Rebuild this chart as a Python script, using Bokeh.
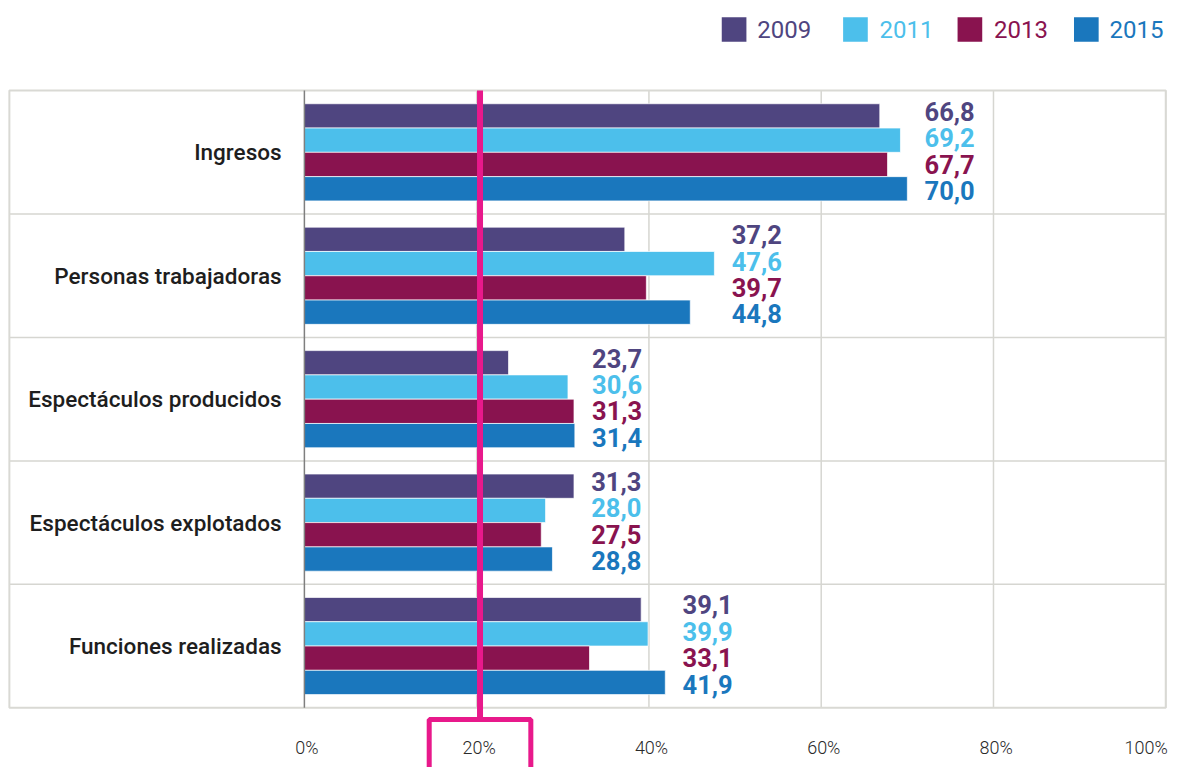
from bokeh.plotting import figure
from bokeh.models import Range1d
from bokeh.core.properties import value
from bokeh.embed import file_html
from bokeh.resources import INLINE

# ---------------- data ----------------
categories = ["Ingresos", "Personas trabajadoras", "Espectáculos producidos",
              "Espectáculos explotados", "Funciones realizadas"]
years = ["2009", "2011", "2013", "2015"]
v2009 = [66.8, 37.2, 23.7, 31.3, 39.1]
v2011 = [69.2, 47.6, 30.6, 28.0, 39.9]
v2013 = [67.7, 39.7, 31.3, 27.5, 33.1]
v2015 = [70.0, 44.8, 31.4, 28.8, 41.9]
x_ticks = [0, 20, 40, 60, 80, 100]
x_tick_labels = ["0%", "20%", "40%", "60%", "80%", "100%"]
colors = ["#4f4580", "#4cbfeb", "#89134f", "#1a77bd"]
series = [v2009, v2011, v2013, v2015]

# ---------------- layout (reference pixel space 1200x783) ----------------
W, H = 1184, 767
RW, RH = 1200.0, 783.0
X0 = 308.0      # px of 0 %
PX = 8.73       # px per 1 %
BOX_TOP = 92.0  # px of box top
BAND = 126.0    # px per category band

FONT = value("Roboto")
FONT_M = value("Roboto Medium")
FONT_L = value("Roboto Light")
PINK = "#e8198b"
GRID = "#d6d6d1"


def px_x(px):
    return (px - X0) / PX


def px_y(py):
    return (py - BOX_TOP) / BAND


p = figure(width=W, height=H, output_backend="svg", toolbar_location=None,
           x_range=Range1d(px_x(0), px_x(RW)), y_range=Range1d(px_y(RH), px_y(0)),
           min_border=0, outline_line_color=None)
p.axis.visible = False
p.grid.visible = False
p.background_fill_color = "white"
p.border_fill_color = "white"

n = len(categories)
left_edge = px_x(9)

# grid lines
p.segment(x0=x_ticks[1:], x1=x_ticks[1:], y0=[0] * 5, y1=[n] * 5,
          line_color=GRID, line_width=1.5)
p.segment(x0=[left_edge] * (n - 1), x1=[100] * (n - 1),
          y0=list(range(1, n)), y1=list(range(1, n)),
          line_color=GRID, line_width=1.5)
# box
p.quad(left=left_edge, right=100, top=0, bottom=n, fill_color=None,
       line_color="#d9d9d4", line_width=2)

# bars
BH = 24.8 / BAND
for j, (vals, col) in enumerate(zip(series, colors)):
    ys = [i + 0.5 + (j - 1.5) * BH for i in range(n)]
    p.hbar(y=ys, left=0, right=vals, height=BH, fill_color=col,
           line_color="white", line_alpha=0.7, line_width=1)

# zero axis line
p.segment(x0=[0], x1=[0], y0=[0], y1=[n], line_color="#7f7f7f", line_width=1.5)

# value labels
LS = 27.0 / BAND
for j, (vals, col) in enumerate(zip(series, colors)):
    xs = [max(s[i] for s in series) + 2.0 for i in range(n)]
    ys = [i + 0.5 + (j - 1.5) * LS - 0.012 for i in range(n)]
    txt = [f"{v:.1f}".replace(".", ",") for v in vals]
    p.text(x=xs, y=ys, text=txt, text_color=col, text_font=FONT,
           text_font_size="25.5px", text_font_style="bold",
           text_align="left", text_baseline="middle")

# category labels
p.text(x=[px_x(285)] * n, y=[i + 0.5 for i in range(n)], text=categories,
       text_color="#1e1e1e", text_font=FONT_M, text_font_size="22.5px",
       text_align="right", text_baseline="middle")

# tick labels
p.text(x=[t + 0.3 for t in x_ticks[:-1]], y=[px_y(763)] * (len(x_ticks) - 1),
       text=x_tick_labels[:-1], text_color="#2a2a2a", text_font=FONT_L,
       text_font_size="18px", text_align="center", text_baseline="middle")
p.text(x=[px_x(1183)], y=[px_y(763)], text=x_tick_labels[-1:],
       text_color="#2a2a2a", text_font=FONT_L, text_font_size="18px",
       text_align="right", text_baseline="middle")

# pink highlight
MARK = px_x(486)
p.segment(x0=[MARK], x1=[MARK], y0=[0], y1=[px_y(734)], line_color=PINK,
          line_width=6)
p.quad(left=px_x(434.5), right=px_x(537.5), top=px_y(734), bottom=px_y(RH + 20),
       fill_color=None, line_color=PINK, line_width=5)

# legend
sq_left = [731, 854, 970, 1088]
tx_left = [767, 891, 1007, 1124]
p.quad(left=[px_x(a) for a in sq_left], right=[px_x(a + 25) for a in sq_left],
       top=[px_y(17)] * 4, bottom=[px_y(42)] * 4, fill_color=colors,
       line_color=None)
p.text(x=[px_x(a) for a in tx_left], y=[px_y(30)] * 4, text=years,
       text_color=colors, text_font=FONT, text_font_size="24px",
       text_align="left", text_baseline="middle")

open("out.html", "w").write(file_html(p, INLINE))
